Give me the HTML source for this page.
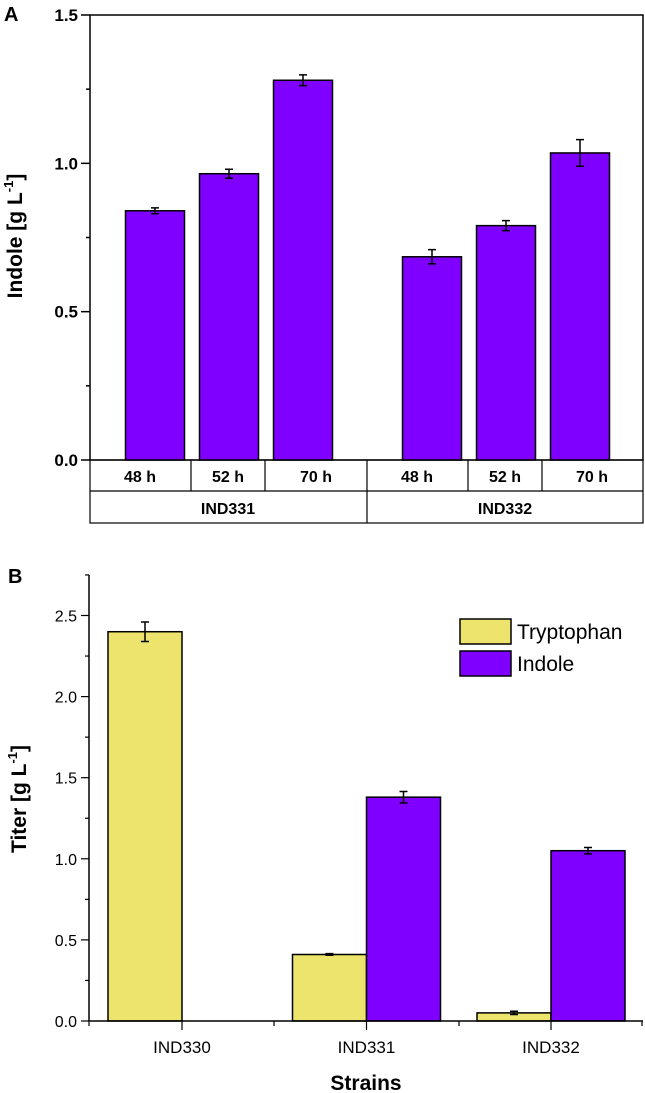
<!DOCTYPE html>
<html><head><meta charset="utf-8"><style>
body{margin:0;background:#fff}
svg{display:block;font-family:"Liberation Sans",Arial,sans-serif}
</style></head><body>
<svg id="c" width="645" height="1093" viewBox="0 0 645 1093"></svg>
<script>
// Panel A data
const aGroups = ["IND331","IND332"];
const aTimes = ["48 h","52 h","70 h"];
const aValues = [0.84,0.965,1.28,0.685,0.79,1.035];
const aErrors = [0.01,0.015,0.018,0.024,0.017,0.045];
const aTicks = [0,0.5,1.0,1.5];
// Panel B data
const bCats = ["IND330","IND331","IND332"];
const bTrp = [2.4,0.41,0.05];
const bTrpErr = [0.06,0.005,0.01];
const bInd = [0,1.38,1.05];
const bIndErr = [0,0.035,0.02];
const bTicks = [0,0.5,1.0,1.5,2.0,2.5];

const NS="http://www.w3.org/2000/svg";
const svg=document.getElementById('c');
function mk(tag,attrs,parent){const e=document.createElementNS(NS,tag);for(const k in attrs)e.setAttribute(k,attrs[k]);(parent||svg).appendChild(e);return e;}
function txt(s,attrs,parent){const e=mk('text',attrs,parent);e.textContent=s;return e;}
const PUR="#8000ff",YEL="#ece46c";

// ===== Panel A =====
const gA=mk('g',{});


const ay=v=>460-(v/1.5)*445;
const aX0=90,aX1=643;
const lbA=txt('A',{x:4,y:21,'font-size':20,'font-weight':'bold'},gA);


const frA=mk('rect',{x:aX0,y:ay(1.5),width:aX1-aX0,height:ay(0)-ay(1.5),fill:'none',stroke:'#000','stroke-width':1.5},gA);


for(let v=0;v<=1.5001;v+=0.25){const major=Math.abs(v*2-Math.round(v*2))<1e-6;
 mk('line',{x1:major?81:86,x2:aX0,y1:ay(v),y2:ay(v),stroke:'#000','stroke-width':1.5},gA);}
aTicks.forEach(v=>{const t=txt(v.toFixed(1),{x:78,y:ay(v)+6,'font-size':17,'font-weight':'bold','text-anchor':'end'},gA);
 
 });
const ytA=txt('Indole [g L',{transform:'translate(22,236) rotate(-90)','font-size':21,'font-weight':'bold','text-anchor':'middle'},gA);


const sup=mk('tspan',{'font-size':13,dy:-9},ytA);sup.textContent='-1';
const cl=mk('tspan',{'font-size':21,dy:9},ytA);cl.textContent=']';
const aCenters=[155,229,303,432,506,580];
aValues.forEach((v,i)=>{
 const cx=aCenters[i],w=59;
 const r=mk('rect',{x:cx-w/2,y:ay(v),width:w,height:ay(0)-ay(v),fill:PUR,stroke:'#000','stroke-width':1.5},gA);
 
 
 const e=aErrors[i];
 mk('path',{d:`M${cx} ${ay(v+e)}V${ay(v-e)}M${cx-4} ${ay(v+e)}H${cx+4}M${cx-4} ${ay(v-e)}H${cx+4}`,stroke:'#000','stroke-width':1.5,fill:'none'},gA);
});
mk('rect',{x:aX0,y:460,width:aX1-aX0,height:63,fill:'none',stroke:'#000','stroke-width':1.2},gA);
mk('line',{x1:aX0,x2:aX1,y1:491,y2:491,stroke:'#000','stroke-width':1.2},gA);
[191,265,367,468,542].forEach(x=>mk('line',{x1:x,x2:x,y1:460,y2:491,stroke:'#000','stroke-width':1.2},gA));
mk('line',{x1:367,x2:367,y1:491,y2:523,stroke:'#000','stroke-width':1.2},gA);
const cellC=[140,228,316,417,505,592];
cellC.forEach((x,i)=>{const t=txt(aTimes[i%3],{x:x,y:482,'font-size':16,'font-weight':'bold','text-anchor':'middle'},gA);
 
 });
[228,505].forEach((x,i)=>{const t=txt(aGroups[i],{x:x,y:514,'font-size':16,'font-weight':'bold','text-anchor':'middle'},gA);
 
 });

// ===== Panel B =====
const gB=mk('g',{});


const by=v=>1021-(v/2.5)*405.5;
const bX0=89,bX1=643;
const lbB=txt('B',{x:8,y:583,'font-size':20,'font-weight':'bold'},gB);


const bx=i=>182+i*184.5;
bCats.forEach((c,i)=>{
 const cx=bx(i),w=74;
 [[bTrp,bTrpErr,YEL,cx-w,'tryptophan'],[bInd,bIndErr,PUR,cx,'indole']].forEach(([vals,errs,col,x,nm])=>{
  const v=vals[i];if(v<=0)return;
  const r=mk('rect',{x:x,y:by(v),width:w,height:by(0)-by(v),fill:col,stroke:'#000','stroke-width':1.5},gB);
  
  
  const e=errs[i],m=x+w/2;
  mk('path',{d:`M${m} ${by(v+e)}V${by(v-e)}M${m-4} ${by(v+e)}H${m+4}M${m-4} ${by(v-e)}H${m+4}`,stroke:'#000','stroke-width':1.5,fill:'none'},gB);
 });
 const t=txt(c,{x:cx,y:1053,'font-size':17,'text-anchor':'middle'},gB);
 
 
});
mk('line',{x1:bX0,x2:bX0,y1:575,y2:by(0),stroke:'#000','stroke-width':1.5},gB);
mk('line',{x1:bX0,x2:bX1,y1:by(0),y2:by(0),stroke:'#000','stroke-width':1.5},gB);
for(let v=0;v<=2.7501;v+=0.25){const major=Math.abs(v*2-Math.round(v*2))<1e-6;
 mk('line',{x1:major?81:85,x2:bX0,y1:by(v),y2:by(v),stroke:'#000','stroke-width':1.2},gB);}
bTicks.forEach(v=>{const t=txt(v.toFixed(1),{x:77,y:by(v)+6,'font-size':16,'text-anchor':'end'},gB);
 
 });
[bX0,274,459,bX1-1].forEach(x=>mk('line',{x1:x,x2:x,y1:by(0),y2:by(0)+5,stroke:'#000','stroke-width':1.2},gB));
bCats.forEach((c,i)=>mk('line',{x1:bx(i),x2:bx(i),y1:by(0),y2:by(0)+9,stroke:'#000','stroke-width':1.2},gB));
const ytB=txt('Titer [g L',{transform:'translate(26,799) rotate(-90)','font-size':21,'font-weight':'bold','text-anchor':'middle'},gB);


const s2=mk('tspan',{'font-size':13,dy:-9},ytB);s2.textContent='-1';
const c2=mk('tspan',{'font-size':21,dy:9},ytB);c2.textContent=']';
const xt=txt('Strains',{x:366,y:1090,'font-size':21,'font-weight':'bold','text-anchor':'middle'},gB);


[["Tryptophan",YEL,619],["Indole",PUR,651]].forEach(([n,c,y])=>{
 const g=mk('g',{},gB);
 
 
 mk('rect',{x:460,y:y,width:51,height:25,fill:c,stroke:'#000','stroke-width':1.5},g);
 txt(n,{x:517,y:y+20,'font-size':21},g);
});
</script>
</body></html>
